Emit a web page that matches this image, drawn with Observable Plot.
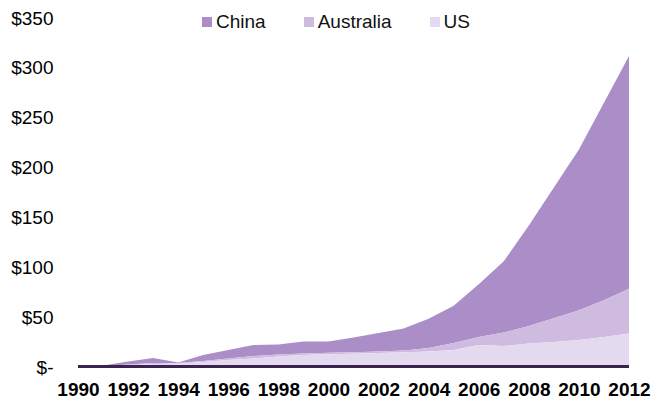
<!DOCTYPE html>
<html>
<head>
<meta charset="utf-8">
<script src="https://cdn.jsdelivr.net/npm/d3@7"></script>
<script src="https://cdn.jsdelivr.net/npm/@observablehq/plot@0.6"></script>
<style>
  html, body { margin: 0; padding: 0; background: #fff; }
  #chart { position: relative; width: 652px; height: 400px; font-family: "Liberation Sans", Arial, sans-serif; }
  #legend { position: absolute; left: 202px; top: 12px; display: flex; align-items: center; font-size: 19px; line-height: 19px; color: #111; }
  #legend .item { display: flex; align-items: center; margin-right: 38px; }
  #legend .sw { width: 10px; height: 10px; margin-right: 4px; margin-top: 1px; }
</style>
</head>
<body>
<div id="chart"><div id="legend"></div></div>
<script>
// Annual values by country, 1990–2012 ($)
const years = [1990,1991,1992,1993,1994,1995,1996,1997,1998,1999,2000,2001,2002,2003,2004,2005,2006,2007,2008,2009,2010,2011,2012];
const china     = [0,0.7,3,5,0.5,6,8.5,11,10,12,11.2,14.7,18.5,22,29.5,37.5,53,71.5,101,131,161,198,233.5];
const australia = [0,0.3,0.7,1,0.5,1,1.5,2.5,2,1.5,1.6,1.5,1.5,1.8,3.5,7,8,13.5,17.5,24,30,37,45];
const us        = [0,0.5,1.8,3,3.5,5,7,8.5,10.5,12,12.7,13.3,14,14.7,15.5,17,22,21,23.5,25,27,30,33.5];

const seriesNames = ["China", "Australia", "US"];
const seriesColors = ["#ab8dc8", "#d0bbe0", "#e4daef"];
const stackOrder = ["US", "Australia", "China"];
const yTicks = [0, 50, 100, 150, 200, 250, 300, 350];
const xTicks = [1990,1992,1994,1996,1998,2000,2002,2004,2006,2008,2010,2012];

const rows = [];
years.forEach((year, i) => {
  rows.push({year, country: "China", value: china[i]});
  rows.push({year, country: "Australia", value: australia[i]});
  rows.push({year, country: "US", value: us[i]});
});

const chart = Plot.plot({
  width: 652,
  height: 400,
  marginLeft: 78,
  marginRight: 23,
  marginTop: 18,
  marginBottom: 33,
  style: { fontFamily: "'Liberation Sans', Arial, sans-serif", background: "#fff", color: "#000", overflow: "visible" },
  x: { domain: [1990, 2012] },
  y: { domain: [0, 350] },
  color: { domain: seriesNames, range: seriesColors },
  marks: [
    Plot.areaY(rows, { x: "year", y: "value", z: "country", fill: "country", order: stackOrder }),
    Plot.ruleY([0], { stroke: "#3b2350", strokeWidth: 3, dy: -1 }),
    Plot.axisY({ ticks: yTicks, tickSize: 0, tickPadding: 25, fontSize: 19, fill: "#000", label: null,
      tickFormat: d => d === 0 ? "$-" : "$" + d }),
    Plot.axisX({ ticks: xTicks, tickSize: 0, tickPadding: 15, fontSize: 19, fontWeight: "bold", fill: "#000", label: null,
      tickFormat: d => String(d) })
  ]
});

document.getElementById("chart").prepend(chart);

// Legend above the plot area
const legend = document.getElementById("legend");
seriesNames.forEach((name, i) => {
  const item = document.createElement("div");
  item.className = "item";
  const sw = document.createElement("div");
  sw.className = "sw";
  sw.style.background = seriesColors[i];
  const label = document.createElement("span");
  label.textContent = name;
  item.append(sw, label);
  legend.append(item);
});
</script>
</body>
</html>
